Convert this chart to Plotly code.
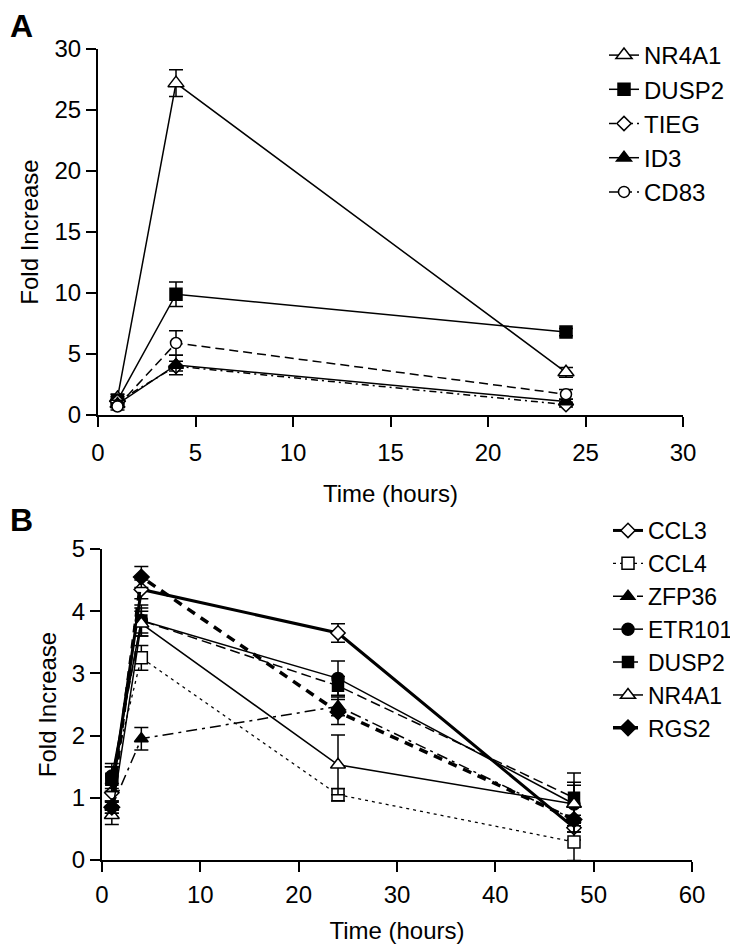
import plotly.graph_objects as go

# ---- panel A data ----
time_a = [1, 4, 24]
nr4a1_a = [1.4, 27.2, 3.5]
nr4a1_a_err = [0.3, 1.1, 0.4]
dusp2_a = [1.2, 9.9, 6.8]
dusp2_a_err = [0.3, 1.0, 0.3]
tieg_a = [1.1, 4.0, 0.85]
tieg_a_err = [0.2, 0.4, 0.2]
id3_a = [0.9, 4.1, 1.1]
id3_a_err = [0.3, 0.8, 0.2]
cd83_a = [0.7, 5.9, 1.7]
cd83_a_err = [0.3, 1.0, 0.4]

# ---- panel B data ----
time_b = [1, 4, 24, 48]
ccl3_b = [1.08, 4.35, 3.65, 0.52]
ccl3_b_err = [0.15, 0.15, 0.15, 0.2]
ccl4_b = [1.3, 3.25, 1.05, 0.29]
ccl4_b_err = [0.2, 0.2, 0.1, 0.3]
zfp36_b = [0.85, 1.95, 2.47, 0.65]
zfp36_b_err = [0.1, 0.18, 0.15, 0.2]
etr101_b = [1.35, 3.85, 2.92, 0.9]
etr101_b_err = [0.2, 0.25, 0.28, 0.35]
dusp2_b = [1.3, 3.85, 2.8, 1.0]
dusp2_b_err = [0.2, 0.2, 0.15, 0.4]
nr4a1_b = [0.72, 3.8, 1.53, 0.9]
nr4a1_b_err = [0.15, 0.2, 0.48, 0.3]
rgs2_b = [0.85, 4.55, 2.38, 0.65]
rgs2_b_err = [0.1, 0.17, 0.2, 0.2]

FONT = 'Liberation Sans, Arial, sans-serif'
FS = 24
W, H = 738, 949
OFF = 8  # page body margin

def fx(p):  # page pixel -> paper x
    return (p - OFF) / W

def fy(p):  # page pixel -> paper y
    return 1 - (p - OFF) / H

def add_series(fig, x, y, err, name, symbol, fill, dash, width, size, xa, ya, legend):
    fig.add_trace(go.Scatter(
        x=x, y=y, name=name, mode='lines+markers',
        xaxis=xa, yaxis=ya, legend=legend,
        line=dict(color='black', width=width, dash=dash),
        marker=dict(symbol=symbol, size=size, color=fill,
                    line=dict(color='black', width=1.5)),
        error_y=dict(type='data', array=err, visible=True,
                     color='black', thickness=1.5, width=7),
    ))

fig = go.Figure()

# panel A
add_series(fig, time_a, nr4a1_a, nr4a1_a_err, 'NR4A1', 'triangle-up', 'white', 'solid', 1.5, 14, 'x', 'y', 'legend')
add_series(fig, time_a, dusp2_a, dusp2_a_err, 'DUSP2', 'square', 'black', 'solid', 1.5, 12, 'x', 'y', 'legend')
add_series(fig, time_a, tieg_a, tieg_a_err, 'TIEG', 'diamond', 'white', '7px,4px,2px,4px', 1.5, 11, 'x', 'y', 'legend')
add_series(fig, time_a, id3_a, id3_a_err, 'ID3', 'triangle-up', 'black', 'solid', 1.5, 13, 'x', 'y', 'legend')
add_series(fig, time_a, cd83_a, cd83_a_err, 'CD83', 'circle', 'white', '9px,5px', 1.5, 11, 'x', 'y', 'legend')

# panel B
add_series(fig, time_b, ccl3_b, ccl3_b_err, 'CCL3', 'diamond', 'white', 'solid', 3, 11, 'x2', 'y2', 'legend2')
add_series(fig, time_b, ccl4_b, ccl4_b_err, 'CCL4', 'square', 'white', '3px,4px', 1.3, 12, 'x2', 'y2', 'legend2')
add_series(fig, time_b, zfp36_b, zfp36_b_err, 'ZFP36', 'triangle-up', 'black', '11px,5px,3px,5px', 1.5, 12, 'x2', 'y2', 'legend2')
add_series(fig, time_b, etr101_b, etr101_b_err, 'ETR101', 'circle', 'black', 'solid', 1.5, 12, 'x2', 'y2', 'legend2')
add_series(fig, time_b, dusp2_b, dusp2_b_err, 'DUSP2', 'square', 'black', '10px,5px', 1.5, 11, 'x2', 'y2', 'legend2')
add_series(fig, time_b, nr4a1_b, nr4a1_b_err, 'NR4A1', 'triangle-up', 'white', 'solid', 1.5, 13, 'x2', 'y2', 'legend2')
add_series(fig, time_b, rgs2_b, rgs2_b_err, 'RGS2', 'diamond', 'black', '9px,7px', 3.5, 12, 'x2', 'y2', 'legend2')

axis_common = dict(showline=True, linecolor='black', linewidth=2, ticks='outside',
                   ticklen=10, tickwidth=2, tickcolor='black', showgrid=False,
                   zeroline=False, automargin=False,
                   tickfont=dict(size=FS, color='black'),
                   title_font=dict(size=FS, color='black'))

fig.update_layout(
    width=W, height=H,
    paper_bgcolor='white', plot_bgcolor='white',
    font=dict(family=FONT, color='black', size=FS),
    margin=dict(l=0, r=0, t=0, b=0, autoexpand=False),
    showlegend=True,
    xaxis=dict(axis_common, domain=[fx(98), fx(683)], range=[0, 30], dtick=5,
               anchor='y', ticklabelstandoff=5, title=dict(text='Time (hours)', standoff=20)),
    yaxis=dict(axis_common, domain=[fy(415), fy(49)], range=[0, 30], dtick=5,
               anchor='x', title=dict(text='Fold Increase', standoff=9)),
    xaxis2=dict(axis_common, domain=[fx(102), fx(692)], range=[0, 60], dtick=10,
                anchor='y2', ticklabelstandoff=2, title=dict(text='Time (hours)', standoff=15)),
    yaxis2=dict(axis_common, domain=[fy(860), fy(549)], range=[0, 5], dtick=1,
                anchor='x2', title=dict(text='Fold Increase', standoff=8)),
    legend=dict(x=fx(604), y=fy(33), xanchor='left', yanchor='top',
                bgcolor='rgba(0,0,0,0)', font=dict(size=FS, color='black'),
                tracegroupgap=0),
    legend2=dict(x=fx(608), y=fy(509), xanchor='left', yanchor='top',
                 bgcolor='rgba(0,0,0,0)', font=dict(size=23, color='black'),
                 tracegroupgap=0),
    annotations=[
        dict(text='<b>A</b>', x=fx(8), y=fy(6), xref='paper', yref='paper',
             xanchor='left', yanchor='top', showarrow=False, font=dict(size=32)),
        dict(text='<b>B</b>', x=fx(8), y=fy(500), xref='paper', yref='paper',
             xanchor='left', yanchor='top', showarrow=False, font=dict(size=32)),
    ],
)

fig.write_html("out.html")
